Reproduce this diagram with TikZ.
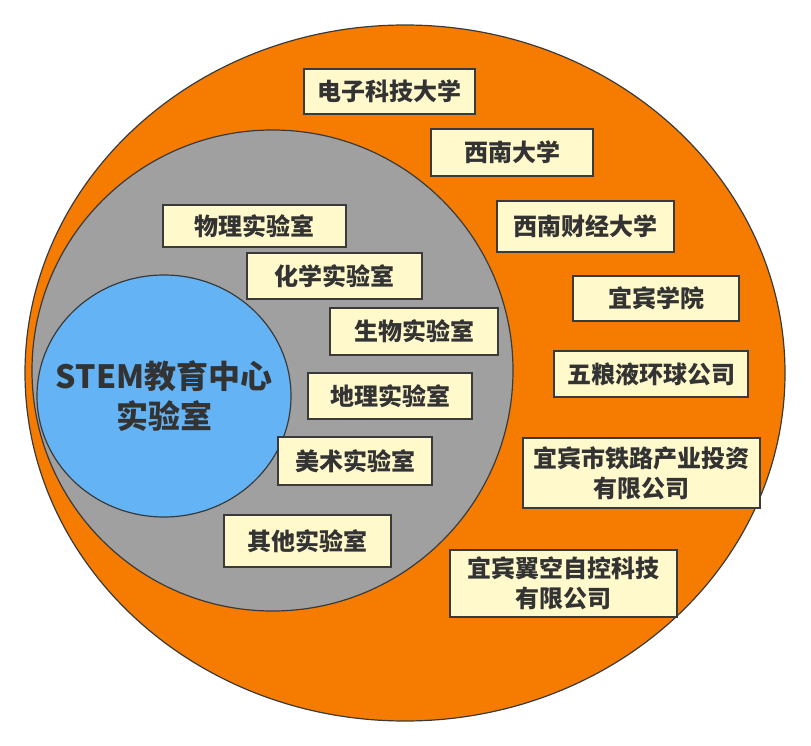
\documentclass[tikz,border=0pt]{standalone}
\usepackage{fontspec}
\setmainfont{Noto Sans CJK SC}
\usetikzlibrary{shapes.geometric}

\definecolor{ringorange}{HTML}{F57C00}
\definecolor{labgray}{HTML}{A0A0A0}
\definecolor{stemblue}{HTML}{63B3F5}
\definecolor{boxyellow}{HTML}{FFF9CC}
\definecolor{edgegray}{HTML}{3A3A3A}
\definecolor{textgray}{HTML}{333333}

\tikzset{
  ring/.style={ellipse, draw=edgegray, line width=1.2pt, inner sep=0pt},
  box/.style={draw=edgegray, line width=1.6pt, fill=boxyellow, text=textgray,
              font=\bfseries\fontsize{24}{30}\selectfont, align=center, inner sep=0pt}
}

\begin{document}
\begin{tikzpicture}[x=1pt, y=-1pt]
    \useasboundingbox (0,0) rectangle (811,746);
    % the three rings
    \node[ring, fill=ringorange, minimum width=760pt, minimum height=696pt] (outer) at (405,373) {};
    \node[ring, fill=labgray, minimum width=481pt, minimum height=481pt] (labs) at (272.5,370.5) {};
    \node[ring, fill=stemblue, minimum width=254pt, minimum height=242pt] (stem) at (164,396) {};
    \node[text=textgray, font=\bfseries\fontsize{32}{40}\selectfont, align=center] (stemlabel) at (stem.center) {STEM教育中心\\实验室};
    % partners
    \node[box, minimum width=171pt, minimum height=45pt] (uestc) at (389.5,91.5) {电子科技大学};
    \node[box, minimum width=162pt, minimum height=47pt] (swu) at (512,152.5) {西南大学};
    \node[box, minimum width=177pt, minimum height=51pt] (swufe) at (585.5,226.5) {西南财经大学};
    \node[box, minimum width=166pt, minimum height=45pt] (ybu) at (656,298.5) {宜宾学院};
    \node[box, minimum width=194pt, minimum height=46pt] (wly) at (651,374) {五粮液环球公司};
    \node[box, minimum width=237pt, minimum height=70pt] (rail) at (641.5,473) {宜宾市铁路产业投资\\有限公司};
    \node[box, minimum width=227pt, minimum height=67pt] (yk) at (563.5,583.5) {宜宾翼空自控科技\\有限公司};
    % labs
    \node[box, minimum width=183pt, minimum height=42pt] (phys) at (254.5,226) {物理实验室};
    \node[box, minimum width=175pt, minimum height=46pt] (chem) at (334.5,276) {化学实验室};
    \node[box, minimum width=168pt, minimum height=47pt] (bio) at (414,331.5) {生物实验室};
    \node[box, minimum width=164pt, minimum height=46pt] (geo) at (390,396) {地理实验室};
    \node[box, minimum width=154pt, minimum height=48pt] (art) at (355,461) {美术实验室};
    \node[box, minimum width=167pt, minimum height=52pt] (other) at (307.5,541) {其他实验室};
\end{tikzpicture}
\end{document}
